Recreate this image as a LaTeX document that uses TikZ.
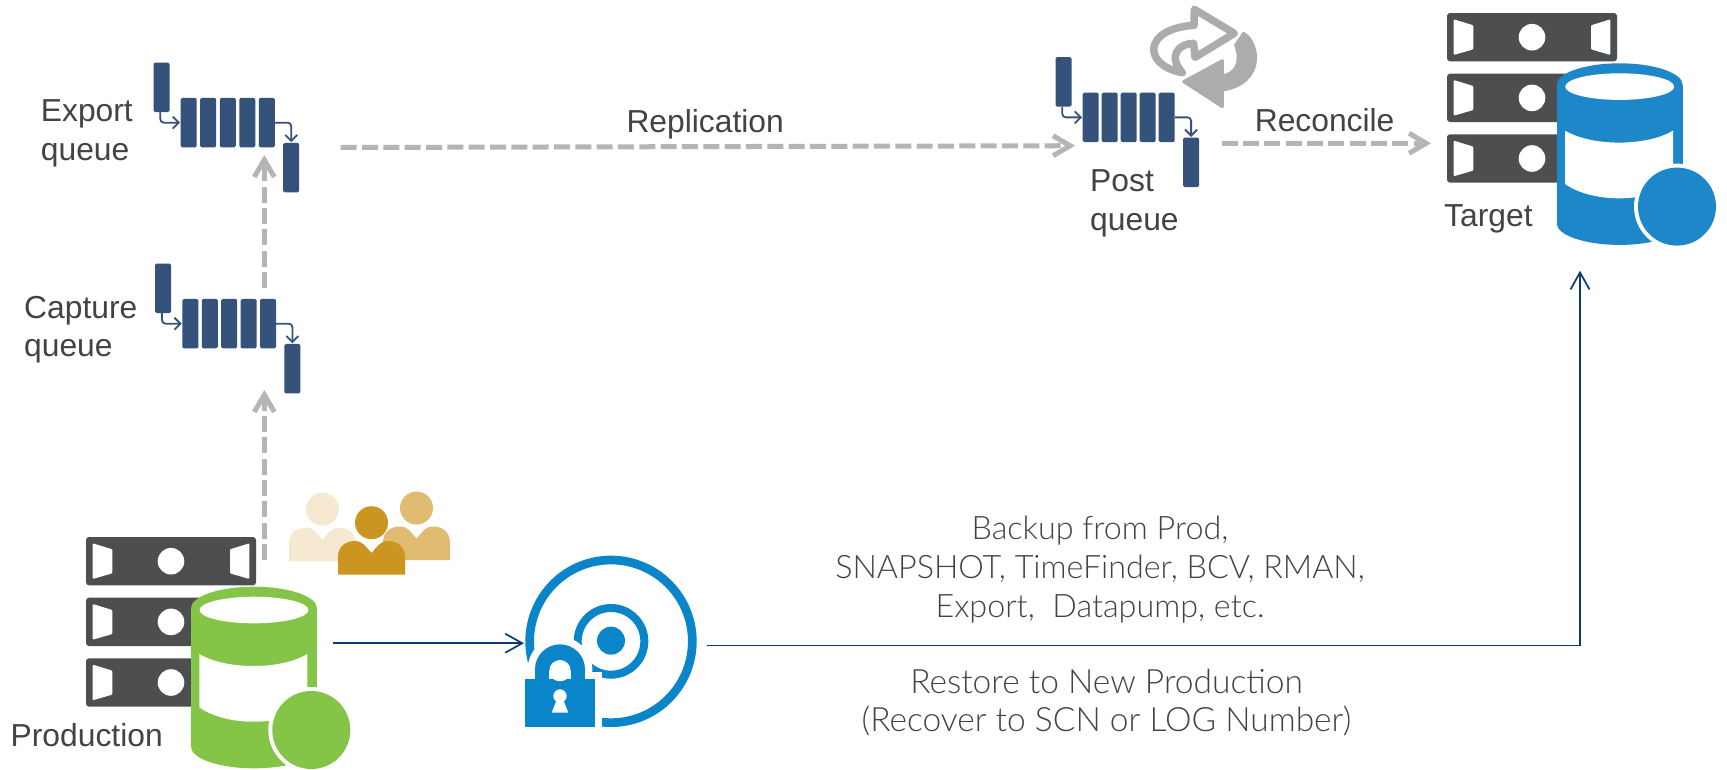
\documentclass[tikz,border=0pt]{standalone}
\usepackage{fontspec}
\setmainfont{Liberation Sans}
\newfontfamily\lightf{Lato}[UprightFont=* Light]
\usetikzlibrary{arrows.meta}
\definecolor{qblue}{HTML}{34527A}
\definecolor{tdark}{HTML}{434343}
\definecolor{rackc}{HTML}{4D4E50}
\definecolor{dashc}{HTML}{B5B5B5}
\definecolor{navyc}{HTML}{0B3A75}
\definecolor{greenc}{HTML}{84C446}
\definecolor{bluec}{HTML}{1E87CA}
\definecolor{discc}{HTML}{0A85C9}
\definecolor{syncc}{HTML}{ACACAC}
\definecolor{pa}{HTML}{F5E9D2}
\definecolor{pb}{HTML}{E0BC73}
\definecolor{pc}{HTML}{CC9520}
\tikzset{
  qcell/.style={fill=qblue,inner sep=0,minimum width=16pt,minimum height=49.5pt,rounded corners=1.5pt,anchor=north west},
  qarrow/.style={draw=qblue,line width=1.8pt,rounded corners=3.5pt,shorten >=0.5pt,-{Straight Barb[length=6pt,width=12pt]}},
  dasharrow/.style={draw=dashc,line width=5pt,dash pattern=on 16pt off 5.33pt,-{Straight Barb[length=17pt,width=20pt]}},
  navyline/.style={draw=navyc,line width=1.7pt,-{Straight Barb[length=17pt,width=19pt]}},
  lbl/.style={font=\fontsize{31.8}{38.3}\selectfont,text=tdark,inner sep=0,align=left},
  blbl/.style={font=\lightf\fontsize{32.3}{38.9}\selectfont,text=tdark,inner sep=0,align=center},
  rlbl/.style={font=\lightf\fontsize{33.5}{38.3}\selectfont,text=tdark,inner sep=0,align=center},
}
% queue: name, x, y, pitch
\newcommand{\queuegroup}[4]{
  \node[qcell] (#1a) at (#2,#3) {};
  \foreach \i in {1,...,5} {
    \pgfmathsetmacro{\cx}{#2+27.2+(\i-1)*#4}
    \pgfmathsetmacro{\cy}{#3+35.4}
    \node[qcell] (#1c\i) at (\cx,\cy) {};
  }
  \pgfmathsetmacro{\zx}{#2+49.6+4*#4+2}
  \pgfmathsetmacro{\zy}{#3+80.4}
  \node[qcell] (#1z) at (\zx,\zy) {};
  \draw[qarrow] ([xshift=7pt]#1a.south west) |- (#1c1.west);
  \draw[qarrow] (#1c5.east) -| (#1z.north);
}
\newcommand{\rackrow}[2]{
  \begin{scope}[shift={(#1,#2)}]
    \fill[rackc,rounded corners=3pt] (0,0) rectangle (170,48.3);
    \fill[white,rounded corners=1pt] (6.7,6.3) -- (26.3,12.3) -- (26.3,36.3) -- (6.7,42) -- cycle;
    \fill[white,rounded corners=1pt] (163.3,6.3) -- (144,12.3) -- (144,36.3) -- (163.3,42) -- cycle;
    \fill[white] (85,24.2) circle[radius=13.3];
  \end{scope}
}
\newcommand{\dbicon}[3]{
  \begin{scope}[shift={(#1,#2)}]
    \fill[#3] (63,21.6) ellipse[x radius=63,y radius=21.6];
    \fill[#3] (0,21.6) rectangle (126,160);
    \fill[#3] (63,160) ellipse[x radius=63,y radius=21.6];
    \fill[white] (63,23.3) ellipse[x radius=54.5,y radius=13.3];
    \fill[white] (8.3,67.3) .. controls (35,83.3) and (90,83.3) .. (116.3,67.3) -- (116.3,120.6) .. controls (90,139.8) and (35,139.8) .. (8.3,120.6) -- cycle;
    \fill[white] (120.3,143.3) circle[radius=43];
    \fill[#3] (120.3,143.3) circle[radius=39];
  \end{scope}
}
\newcommand{\person}[4]{
  \begin{scope}[shift={(#1,#2)}]
    \fill[#4] (33.5,-#3) circle[radius=16.5];
    \fill[#4] (0,33.5) -- (0,16) .. controls (0,5) and (8,0) .. (17,0) .. controls (25,0) and (28,6) .. (33.5,12) .. controls (39,6) and (42,0) .. (50,0) .. controls (59,0) and (67,5) .. (67,16) -- (67,33.5) -- cycle;
  \end{scope}
}
\begin{document}
\begin{tikzpicture}[x=1pt,y=-1pt]
\fill[white] (0,0) rectangle (1727,769);
\useasboundingbox (0,0) rectangle (1727,769);

% racks
\foreach \yy in {537,597.7,658.3} {\rackrow{86}{\yy}}
\foreach \yy in {13,73.7,134.3} {\rackrow{1447}{\yy}}
\dbicon{191}{586.7}{greenc}
\dbicon{1556.7}{63.3}{bluec}

% people
\person{289}{527.7}{18.5}{pa}
\person{383}{526.5}{18.5}{pb}
\person{338}{541}{18.3}{pc}

% queues
\queuegroup{exp}{153.3}{62.3}{19.53}
\queuegroup{cap}{155}{263.3}{19.4}
\queuegroup{pst}{1055.3}{57}{19}

% sync icon
\begin{scope}[shift={(1145,0)},scale=1/3]
  \fill[syncc,draw=syncc,line width=3pt,line join=round]
    (232,182) -- (232,228) .. controls (270,222) and (292,190) .. (272,135) -- (296,100)
    .. controls (345,130) and (360,250) .. (232,270) -- (232,320) -- (116,245) -- cycle;
  \def\swirl{(148,28) -- (268,100) -- (150,172) -- (146,130) .. controls (105,130) and (65,165) .. (112,218) .. controls (-10,195) and (-5,85) .. (147,76) -- cycle}
  \draw[white,line width=12pt,line join=round] \swirl;
  \draw[syncc,fill=white,line width=7.5pt,line join=round] \swirl;
\end{scope}

% disc
\begin{scope}[shift={(500,540)},scale=1/3]
  \draw[discc,line width=8.7pt] (333,304) circle[radius=244];
  \draw[discc,line width=8pt] (333,304) circle[radius=100];
  \fill[discc] (333,302) circle[radius=42];
  \fill[white] (180,388) circle[radius=97];
  \fill[white] (53,396) rectangle (307,566);
  \fill[discc] (180,388) circle[radius=75];
  \fill[discc] (105,388) rectangle (255,420);
  \fill[discc] (75,418) rectangle (285,560);
  \fill[white] (180,392) circle[radius=32];
  \fill[white] (148,392) rectangle (212,418);
  \fill[white] (180,468) circle[radius=20];
  \fill[white] (170,480) -- (190,480) -- (205,518) -- (155,518) -- cycle;
\end{scope}

% connector ends
\coordinate (prodTop) at (264.3,560);
\coordinate (capIn) at (264.3,390);
\coordinate (capOut) at (264.3,288);
\coordinate (expIn) at (264.3,155);
\coordinate (expOut) at (340.7,147.5);
\coordinate (pstIn) at (1075,145.7);
\coordinate (pstOut) at (1221.7,143.3);
\coordinate (tgtIn) at (1431,143.3);
\coordinate (prodOut) at (333,643.2);
\coordinate (discIn) at (524,643.2);
\coordinate (discOut) at (706.7,645.5);
\coordinate (tgtUp) at (1580,270.7);

\draw[dasharrow] (prodTop) -- (capIn);
\draw[dasharrow] (capOut) -- (expIn);
\draw[dasharrow] (expOut) -- (pstIn);
\draw[dasharrow] (pstOut) -- (tgtIn);
\draw[navyline] (prodOut) -- (discIn);
\draw[navyline] (discOut) -| (tgtUp);

% labels
\node[lbl,anchor=base west] (lexport) at (40.7,160) {Export\\queue};
\node[lbl,anchor=base west] (lcapture) at (24,356.7) {Capture\\queue};
\node[lbl,anchor=base west] (lpost) at (1090,230) {Post\\queue};
\node[lbl,anchor=base west] (lrepl) at (626.3,132.7) {Replication};
\node[lbl,anchor=base west] (lrec) at (1254.6,131) {Reconcile};
\node[lbl,anchor=base west] (ltarget) at (1444,226.7) {Target};
\node[lbl,anchor=base west] (lprod) at (10.5,746) {Production};
\node[blbl,anchor=base] (lbackup) at (1100,617) {Backup from Prod,\\SNAPSHOT, TimeFinder, BCV, RMAN,\\Export,\ \ Datapump, etc.};
\node[rlbl,anchor=base] (lrestore) at (1106.5,731.7) {Restore to New Production\\(Recover to SCN or LOG Number)};
\end{tikzpicture}
\end{document}
